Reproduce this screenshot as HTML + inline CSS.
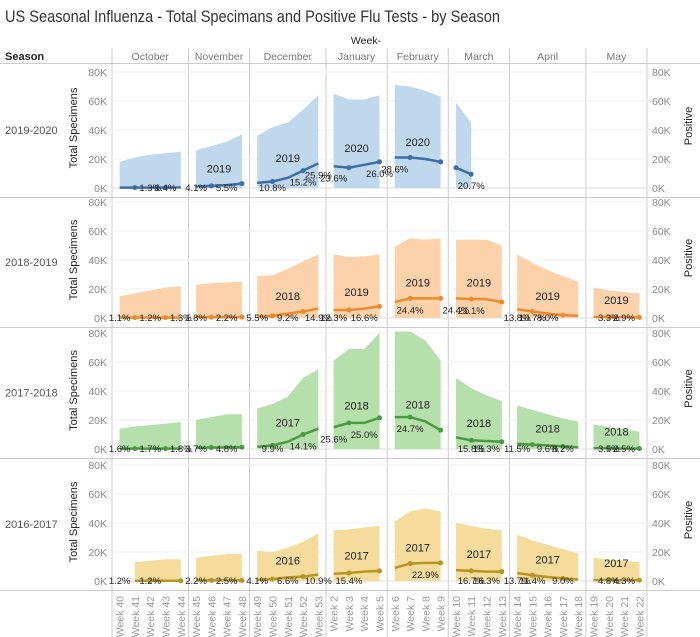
<!DOCTYPE html>
<html><head><meta charset="utf-8"><style>
body{margin:0;background:#fff;}
svg{display:block;font-family:"Liberation Sans",sans-serif;}
</style></head><body>
<svg id="c" width="700" height="637" viewBox="0 0 700 637" xmlns="http://www.w3.org/2000/svg">
<text x="5" y="22" font-size="17" fill="#333" textLength="495" lengthAdjust="spacingAndGlyphs">US Seasonal Influenza - Total Specimans and Positive Flu Tests - by Season</text>
<text x="366" y="44" font-size="10.5" fill="#222" text-anchor="middle">Week-</text>
<text x="5" y="60" font-size="11" fill="#222" font-weight="bold">Season</text>
<g id="g"></g>
</svg>
<script>
const months = ['October','November','December','January','February','March','April','May'];
const monthWeeks = [[40,41,42,43,44],[45,46,47,48],[49,50,51,52,53],[2,3,4,5],[6,7,8,9],[10,11,12,13],[14,15,16,17,18],[19,20,21,22]];
const seasons = ['2019-2020','2018-2019','2017-2018','2016-2017'];
const yTicks = [0,20,40,60,80];
// totals (K) per week, 35 weeks
const total1920 = [18,21,23,24,25, 26,29,32,37, 36,42,45,54,64, 65,61,61,64, 71,70,67,63, 59,45,null,null, null,null,null,null,null, null,null,null,null];
const total1819 = [15,17,19,21,22, 23,24,24.5,25, 29,29.5,34,39,44, 44,42,42.5,44, 49,55,54,55, 54,54,54,50, 44,38,33,29,25, 21,19,18,17];
const total1718 = [14,15.5,16.5,17.5,18.5, 20,22,24,24, 28,31,36,49,55, 61,69,69,80, 81,81,75,61, 49,42,37,33, 30,27,24,21,19, 17,15,13.5,12];
const total1617 = [null,13,14,15,15, 16,17.5,18.5,18.5, 21,20,23,27,33, 35,35.5,37,38, 41,48,50,48, 40,38,36,35, 32,28,25,22,19, 16,15,14,13];
// positives (K)
const pos1920 = [0.3,0.3,0.3,0.3,0.4, 1,1.5,2,3, 3.5,4.5,7,12,17, 15,14,16,18, 21,21,20,18, 14,9.5,null,null, null,null,null,null,null, null,null,null,null];
const pos1819 = [0.3,0.3,0.3,0.3,0.3, 0.5,0.5,0.5,0.6, 1,1.5,3,4.5,6.5, 5.5,5.5,6.5,8, 11,13.5,13.5,13.5, 13.5,13,13,11, 6,4.5,3,2,1.5, 0.7,0.5,0.5,0.4];
const pos1718 = [0.3,0.3,0.3,0.3,0.3, 0.8,1,1.1,1.2, 1.5,2.5,5,10,14, 15,18,18,21.5, 22,22,19,13, 8,6,5.5,5, 3.5,3,2.5,1.8,1.2, 0.6,0.4,0.3,0.3];
const pos1617 = [null,0.2,0.2,0.2,0.2, 0.4,0.4,0.4,0.4, 0.8,1.3,2.5,3,4.5, 5,5.5,6.5,7, 9,12,12.5,12.5, 7.5,7,6.5,6.5, 5.5,4,2.8,1.8,1, 0.6,0.6,0.5,0.5];
const pct1920 = [null,null,'1.3%','1.4%',null, '4.1%',null,'5.5%',null, null,'10.8%',null,'15.2%','25.9%', '23.6%',null,null,'26.0%', '28.6%',null,null,null, null,'20.7%',null,null, null,null,null,null,null, null,null,null,null];
const pct1819 = ['1.1%',null,'1.2%',null,'1.3%', '1.8%',null,'2.2%',null, '5.5%',null,'9.2%',null,'14.9%', '12.3%',null,'16.6%',null, null,'24.4%',null,null, '24.4%','21.1%',null,null, '13.8%','10.7%','8.0%',null,null, null,'3.3%','2.9%',null];
const pct1718 = ['1.6%',null,'1.7%',null,'1.8%', '3.7%',null,'4.8%',null, null,'9.9%',null,'14.1%',null, '25.6%',null,'25.0%',null, null,'24.7%',null,null, null,'15.8%','15.3%',null, '11.5%',null,'9.6%','8.2%',null, null,'3.5%','2.5%',null];
const pct1617 = ['1.2%',null,'1.2%',null,null, '2.2%',null,'2.5%',null, '4.1%',null,'6.6%',null,'10.9%', null,'15.4%',null,null, null,null,'22.9%',null, null,'16.7%','16.3%',null, '13.7%','11.4%',null,'9.0%',null, null,'4.8%','4.3%',null];
const years1920 = [null,'2019','2019','2020','2020',null,null,null];
const years1819 = [null,null,'2018','2019','2019','2019','2019','2019'];
const years1718 = [null,null,'2017','2018','2018','2018','2018','2018'];
const years1617 = [null,null,'2016','2017','2017','2017','2017','2017'];

const totals=[total1920,total1819,total1718,total1617];
const poss=[pos1920,pos1819,pos1718,pos1617];
const pcts=[pct1920,pct1819,pct1718,pct1617];
const years=[years1920,years1819,years1718,years1617];
const fills=['#c0d8ee','#fdd1aa','#b5dfab','#f6dc9c'];
const strokes=['#3e6ea8','#ec8a2c','#4b9a42','#b7951f'];

const NS='http://www.w3.org/2000/svg';
const g=document.getElementById('g');
function mk(t,a,p){const e=document.createElementNS(NS,t);for(const k in a)e.setAttribute(k,a[k]);(p||g).appendChild(e);return e;}
const X0=112,X1=647,nW=35,wW=(X1-X0)/nW;
const rowTop=[63,197,327,458],rowH=[134,130,131,132];
const xW=i=>X0+(i+0.5)*wW;
const yV=(r,v)=>rowTop[r]+rowH[r]-9-v/80*116;

let idx=0;const startIdx=[];
monthWeeks.forEach((ws,m)=>{startIdx.push(idx);idx+=ws.length;});
months.forEach((mn,m)=>{
  const xa=X0+startIdx[m]*wW, xb=xa+monthWeeks[m].length*wW;
  const t=mk('text',{x:(xa+xb)/2,y:60,'font-size':10.5,fill:'#777','text-anchor':'middle'});t.textContent=mn;
  
  
  const l=mk('line',{x1:xa,x2:xa,y1:48,y2:637,stroke:'#ccc','stroke-width':1});
  
  
});
mk('line',{x1:X1,x2:X1,y1:48,y2:637,stroke:'#ccc'});
mk('line',{x1:0,x2:700,y1:63.5,y2:63.5,stroke:'#ccc'});
[197,327,458,590].forEach(y=>mk('line',{x1:0,x2:700,y1:y+.5,y2:y+.5,stroke:'#ccc'}));

let wi=0;
monthWeeks.forEach(ws=>ws.forEach(w=>{
  const x=xW(wi);
  const t=mk('text',{x:0,y:0,'font-size':10.5,fill:'#999','text-anchor':'end',transform:`translate(${x+4},596) rotate(-90)`});
  t.textContent='Week '+w;
  
  
  wi++;
}));

seasons.forEach((s,r)=>{
  const top=rowTop[r],h=rowH[r];
  const sl=mk('text',{x:5,y:top+h/2+4,'font-size':11,fill:'#555'});sl.textContent=s;
  
  
  const lt=mk('text',{x:0,y:0,'font-size':11,fill:'#222','text-anchor':'middle',transform:`translate(77,${top+h/2-2}) rotate(-90)`});lt.textContent='Total Specimens';
  
  
  const rt=mk('text',{x:0,y:0,'font-size':11,fill:'#222','text-anchor':'middle',transform:`translate(692,${top+h/2-4}) rotate(-90)`});rt.textContent='Positive';
  
  
  yTicks.forEach(v=>{
    const y=yV(r,v);
    mk('line',{x1:X0,x2:X1,y1:y,y2:y,stroke:v===0?'#ddd':'#f0f0f0'});
    const a=mk('text',{x:107,y:y+4,'font-size':10.5,fill:'#888','text-anchor':'end'});a.textContent=v+'K';
    
    
    const b=mk('text',{x:652,y:y+4,'font-size':10.5,fill:'#888'});b.textContent=v+'K';
    
    
  });
  const T=totals[r],P=poss[r],L=pcts[r],Y=years[r];
  monthWeeks.forEach((ws,m)=>{
    const ids=[];for(let k=0;k<ws.length;k++){const i=startIdx[m]+k;if(T[i]!=null)ids.push(i);}
    if(ids.length){
      let d='M'+xW(ids[0])+','+yV(r,0);
      ids.forEach(i=>d+='L'+xW(i)+','+yV(r,T[i]));
      d+='L'+xW(ids[ids.length-1])+','+yV(r,0)+'Z';
      const a=mk('path',{d,fill:fills[r]});
      
      
    }
    const pids=[];for(let k=0;k<ws.length;k++){const i=startIdx[m]+k;if(P[i]!=null)pids.push(i);}
    if(pids.length){
      const pl=mk('polyline',{points:pids.map(i=>xW(i)+','+yV(r,P[i])).join(' '),fill:'none',stroke:strokes[r],'stroke-width':2.5});
      
      
      pids.forEach((i,k)=>{if(k%2===1||pids.length<3){const c=mk('circle',{cx:xW(i),cy:yV(r,P[i]),r:2.5,fill:strokes[r]});
        
        }});
      if(Y[m]){
        const avg=pids.reduce((s,i)=>s+P[i],0)/pids.length;
        const xa=X0+startIdx[m]*wW+ws.length*wW/2;
        const t=mk('text',{x:xa,y:Math.min(yV(r,avg)-13,yV(r,0)-12),'font-size':11,fill:'#222','text-anchor':'middle'});t.textContent=Y[m];
        
        
      }
    }
    for(let k=0;k<ws.length;k++){const i=startIdx[m]+k;
      if(L[i]){const base=P[i]!=null?P[i]:0;
        const t=mk('text',{x:xW(i),y:Math.min(yV(r,base)+15,yV(r,0)+3),'font-size':9.5,fill:'#222','text-anchor':'middle'});t.textContent=L[i];
        
        }
    }
  });
});
</script>
</body></html>
